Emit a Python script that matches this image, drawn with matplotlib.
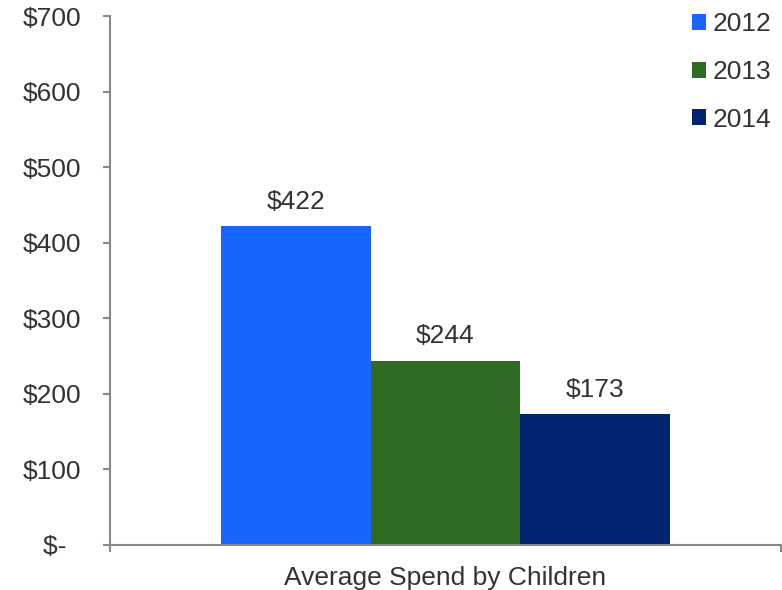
import matplotlib
matplotlib.use("Agg")
import matplotlib.pyplot as plt
from matplotlib.patches import Patch

plt.rcParams['font.family'] = ['Liberation Sans', 'DejaVu Sans']

category = "Average Spend by Children"
years = ["2012", "2013", "2014"]
values = [422, 244, 173]
colors = ["#1764FF", "#2D6A22", "#002470"]
yticks = [0, 100, 200, 300, 400, 500, 600, 700]
ytick_labels = ["$-  ", "$100", "$200", "$300", "$400", "$500", "$600", "$700"]

text_color = "#333333"
axis_color = "#888888"
fs = 19

fig = plt.figure(figsize=(7.82, 5.90), dpi=100)
ax = fig.add_axes([110/782, 1-545/590, 671/782, 529/590])

bw = 0.2228
offsets = [-bw, 0, bw]
for yr, v, c, off in zip(years, values, colors, offsets):
    ax.bar(off, v, width=bw, color=c, label=yr)
    ax.annotate(f"${v}", (off, v), xytext=(0, 17.5), textcoords="offset points",
                ha="center", va="center", fontsize=fs, color=text_color)

ax.set_xlim(-0.5, 0.5)
ax.set_ylim(0, 700)
ax.set_yticks(yticks)
ax.set_yticklabels(ytick_labels, fontsize=fs, color=text_color)
ax.tick_params(axis="y", length=5, width=1.5, color=axis_color, pad=16)
ax.set_xticks([-0.5, 0.5])
ax.set_xticklabels(["", ""])
ax.tick_params(axis="x", length=5, width=1.5, color=axis_color)
ax.set_xticks([0], minor=True)
ax.set_xticklabels([category], minor=True, fontsize=fs, color=text_color)
ax.tick_params(axis="x", which="minor", length=0, pad=15)

for s in ["top", "right"]:
    ax.spines[s].set_visible(False)
for s in ["left", "bottom"]:
    ax.spines[s].set_color(axis_color)
    ax.spines[s].set_linewidth(1.5)

handles = [Patch(facecolor=c, edgecolor="none") for c in colors]
leg = ax.legend(handles, years, loc="upper right", bbox_to_anchor=(1.0015, 1.027),
                frameon=False, fontsize=fs, handlelength=0.55, handleheight=0.55,
                handletextpad=0.25, labelspacing=0.9, borderaxespad=0)
for t in leg.get_texts():
    t.set_color(text_color)

fig.savefig("out.png", dpi=100)
